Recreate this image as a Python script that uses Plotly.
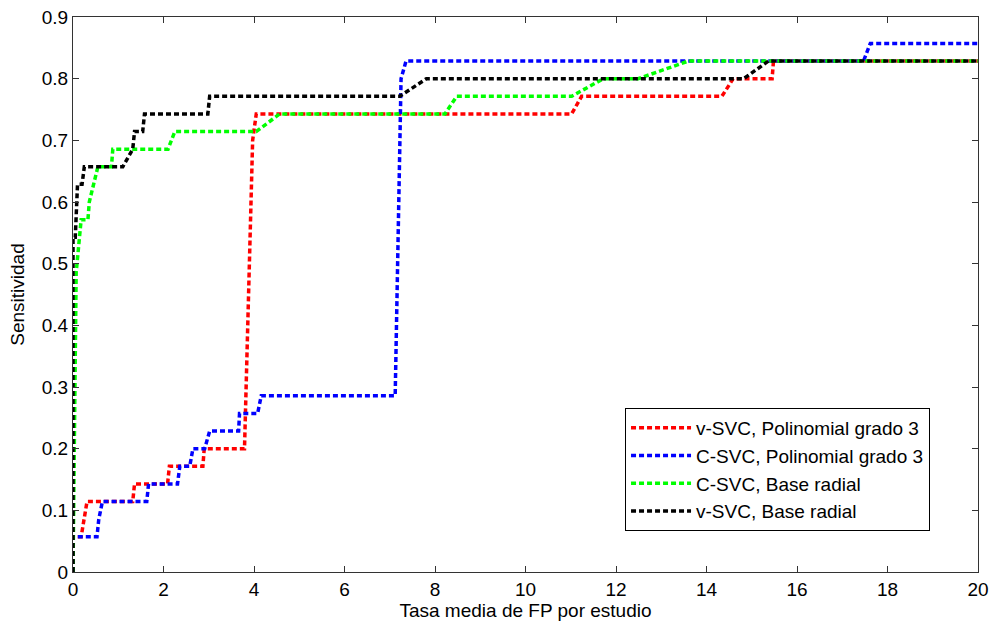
import plotly.graph_objects as go

# FROC curves: sensitivity vs. mean false positives per study
nu_poly_fp = [0, 0, 0.18, 0.24, 0.31, 1.32, 1.36, 2.09, 2.13, 2.87, 2.9, 3.79, 3.97, 4.05,
              11.02, 11.24, 14.34, 14.59, 15.45, 15.48, 20]
nu_poly_sens = [0, 0.0571, 0.0571, 0.0857, 0.1143, 0.1143, 0.1429, 0.1429, 0.1714, 0.1714, 0.2, 0.2, 0.70, 0.7429,
                0.7429, 0.7714, 0.7714, 0.8, 0.8, 0.8286, 0.8286]

c_poly_fp = [0, 0, 0.53, 0.57, 0.65, 1.63, 1.67, 2.31, 2.36, 2.58, 2.65, 2.91, 3.02, 3.66, 3.68,
             4.08, 4.16, 7.12, 7.25, 7.36, 17.47, 17.62, 20]
c_poly_sens = [0, 0.0571, 0.0571, 0.0857, 0.1143, 0.1143, 0.1429, 0.1429, 0.1714, 0.1714, 0.2, 0.2, 0.2286, 0.2286, 0.2571,
               0.2571, 0.2857, 0.2857, 0.80, 0.8286, 0.8286, 0.8571, 0.8571]

c_rbf_fp = [0, 0, 0.07, 0.18, 0.33, 0.36, 0.55, 0.85, 0.88, 2.1, 2.25, 4.05, 4.57,
            8.22, 8.48, 11.02, 11.72, 12.49, 13.6, 20]
c_rbf_sens = [0, 0.0, 0.4857, 0.5714, 0.5714, 0.6, 0.6571, 0.6571, 0.6857, 0.6857, 0.7143, 0.7143, 0.7429,
              0.7429, 0.7714, 0.7714, 0.8, 0.8, 0.8286, 0.8286]

nu_rbf_fp = [0, 0, 0.05, 0.1, 0.2, 0.25, 1.1, 1.32, 1.36, 1.54, 1.58, 2.98, 3.02,
             7.22, 7.81, 14.82, 15.37, 20]
nu_rbf_sens = [0, 0.5429, 0.5429, 0.6286, 0.6286, 0.6571, 0.6571, 0.6857, 0.7143, 0.7143, 0.7429, 0.7429, 0.7714,
               0.7714, 0.8, 0.8, 0.8286, 0.8286]

series = [
    ("v-SVC, Polinomial grado 3", nu_poly_fp, nu_poly_sens, "#FF0000"),
    ("C-SVC, Polinomial grado 3", c_poly_fp, c_poly_sens, "#0000FF"),
    ("C-SVC, Base radial", c_rbf_fp, c_rbf_sens, "#00FF00"),
    ("v-SVC, Base radial", nu_rbf_fp, nu_rbf_sens, "#000000"),
]

x_ticks = list(range(0, 21, 2))
y_ticks = [0, 0.1, 0.2, 0.3, 0.4, 0.5, 0.6, 0.7, 0.8, 0.9]
y_tick_text = ["0", "0.1", "0.2", "0.3", "0.4", "0.5", "0.6", "0.7", "0.8", "0.9"]

fig = go.Figure()
for name, xs, ys, color in series:
    fig.add_trace(go.Scatter(
        x=xs, y=ys, mode="lines", name=name,
        line=dict(color=color, width=3.5, dash="5px,3px"),
    ))

font_family = "Liberation Sans, Arial, sans-serif"
font_size = 19
axis_common = dict(
    showgrid=False, zeroline=False, showline=True, linecolor="#333333", linewidth=1,
    mirror="ticks", ticks="inside", ticklen=6, tickcolor="#333333", automargin=False,
    tickfont=dict(family=font_family, size=font_size, color="#000000"),
)

fig.update_layout(
    width=992, height=630,
    margin=dict(l=73, r=14, t=17, b=58),
    paper_bgcolor="white", plot_bgcolor="white",
    font=dict(family=font_family, size=font_size, color="#000000"),
    showlegend=True,
    legend=dict(
        x=0.947, y=0.2955, xanchor="right", yanchor="top",
        bgcolor="white", bordercolor="#000000", borderwidth=1,
        font=dict(family=font_family, size=font_size, color="#000000"),
        itemwidth=60,
    ),
    xaxis=dict(range=[0, 20], tickvals=x_ticks,
               title=dict(text="Tasa media de FP por estudio", standoff=4,
                          font=dict(family=font_family, size=font_size)),
               **axis_common),
    yaxis=dict(range=[0, 0.9], tickvals=y_ticks, ticktext=y_tick_text,
               title=dict(text="Sensitividad", standoff=12,
                          font=dict(family=font_family, size=font_size)),
               **axis_common),
)

fig.write_html("out.html")
